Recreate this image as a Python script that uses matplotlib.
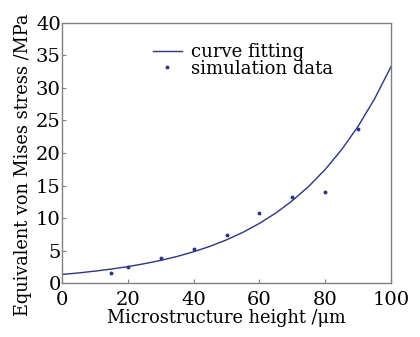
import matplotlib.pyplot as plt

# simulation data
height_um = [15, 20, 30, 40, 50, 60, 70, 80, 90]
stress_mpa = [1.6, 2.5, 3.8, 5.2, 7.4, 10.7, 13.2, 14.0, 23.7]

# fitted curve, read every 5 um
fit_x = [0, 5, 10, 15, 20, 25, 30, 35, 40, 45, 50,
         55, 60, 65, 70, 75, 80, 85, 90, 95, 100]
fit_y = [1.33, 1.56, 1.84, 2.16, 2.53, 2.98, 3.49, 4.10, 4.82, 5.66, 6.65,
         7.81, 9.18, 10.78, 12.67, 14.88, 17.48, 20.53, 24.11, 28.33, 33.28]

x_ticks = [0, 20, 40, 60, 80, 100]
y_ticks = [0, 5, 10, 15, 20, 25, 30, 35, 40]

color = '#2b3485'
plt.rcParams['font.family'] = 'DejaVu Serif'

fig = plt.figure(figsize=(4.2, 3.37), dpi=100)
ax = fig.add_axes([0.148, 0.160, 0.783, 0.772])

ax.plot(fit_x, fit_y, color=color, lw=1.0, label='curve fitting')
ax.plot(height_um, stress_mpa, ls='none', marker='o', ms=1.8,
        color=color, label='simulation data')

ax.set_xlim(0, 100)
ax.set_ylim(0, 40)
ax.set_xticks(x_ticks)
ax.set_yticks(y_ticks)
for s in ax.spines.values():
    s.set_color('#808080')
    s.set_linewidth(1.0)
ax.tick_params(direction='in', length=3, color='#808080', labelsize=14)
ax.tick_params(axis='x', pad=5.5)
ax.tick_params(axis='y', pad=1)

ax.set_xlabel('Microstructure height /μm', fontsize=12.8, labelpad=0)
ax.set_ylabel('Equivalent von Mises stress /MPa', fontsize=12.8)
ax.yaxis.set_label_coords(-0.092, 0.455)

ax.legend(loc='upper center', bbox_to_anchor=(0.55, 0.97), frameon=False,
          fontsize=13, handlelength=1.6, handletextpad=0.5, labelspacing=-0.1,
          borderpad=0.2)

plt.savefig('out.png')
